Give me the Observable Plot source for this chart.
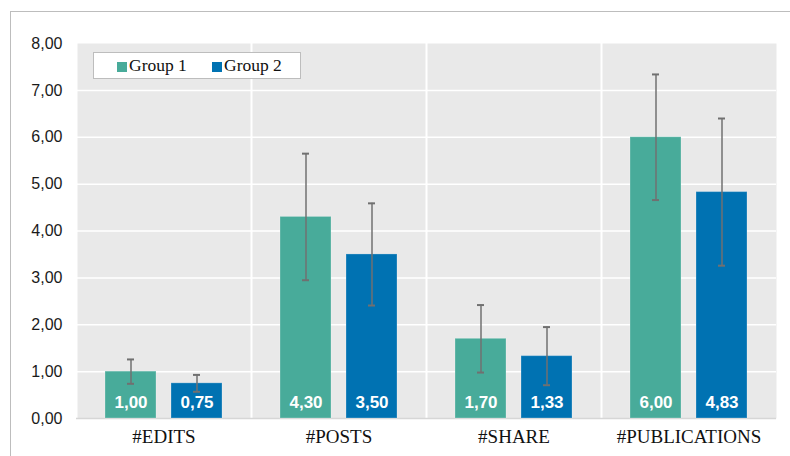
<!DOCTYPE html>
<html>
<head>
<meta charset="utf-8">
<script src="https://cdn.jsdelivr.net/npm/d3@7"></script>
<script src="https://cdn.jsdelivr.net/npm/@observablehq/plot@0.6"></script>
<style>
  html, body { margin: 0; padding: 0; background: #fff; }
  #wrap { position: relative; width: 790px; height: 456px; overflow: hidden; }
  #frame { position: absolute; left: 10px; top: 11px; width: 800px; height: 460px;
           border-top: 1.5px solid #bdbdbd; border-left: 1.5px solid #bdbdbd; box-sizing: border-box; }
  #chart { position: absolute; left: 0; top: 0; }
  #legend { position: absolute; left: 93px; top: 52px; width: 208px; height: 27px; box-sizing: border-box;
            background: #fff; border: 1px solid #bdbdbd; font-family: "Liberation Serif", serif; font-size: 17.5px;
            color: #111; }
  .li { position: absolute; top: 0; height: 25px; line-height: 25px; white-space: nowrap; }
  .sw { display: inline-block; width: 10px; height: 10px; margin-right: 2px; vertical-align: -0.5px; }
</style>
</head>
<body>
<div id="wrap">
  <div id="frame"></div>
  <div id="chart"></div>
  <div id="legend"></div>
</div>
<script>
const categories = ["#EDITS", "#POSTS", "#SHARE", "#PUBLICATIONS"];
const groups = ["Group 1", "Group 2"];
const colors = ["#48ab9a", "#0072b2"];
const group1Values = [1.00, 4.30, 1.70, 6.00];
const group2Values = [0.75, 3.50, 1.33, 4.83];
const group1Err = [0.26, 1.35, 0.72, 1.34];
const group2Err = [0.18, 1.09, 0.62, 1.57];
const yTicks = [0, 1, 2, 3, 4, 5, 6, 7, 8];

const data = [];
categories.forEach((c, i) => {
  data.push({cat: c, group: groups[0], value: group1Values[i], err: group1Err[i]});
  data.push({cat: c, group: groups[1], value: group2Values[i], err: group2Err[i]});
});
const fmt = d => d.toFixed(2).replace(".", ",");

const chart = Plot.plot({
  width: 790,
  height: 456,
  marginTop: 43,
  marginBottom: 38,
  marginLeft: 75,
  marginRight: 13,
  style: {background: "transparent", overflow: "visible"},
  fx: {domain: categories, paddingInner: 0, paddingOuter: 0, label: null},
  x: {domain: groups, paddingInner: 0.224, paddingOuter: 0.4216, axis: null},
  y: {domain: [0, 8], axis: null},
  color: {domain: groups, range: colors},
  marks: [
    Plot.frame({fill: "#e9e9e9", stroke: null}),
    Plot.ruleY(yTicks.filter(d => d > 0 && d < 8), {stroke: "#fff", strokeWidth: 1.5}),
    Plot.frame({anchor: "left", stroke: "#fff", strokeWidth: 2}),
    Plot.ruleY([0], {stroke: "#d6d6d6", strokeWidth: 1.5}),
    Plot.barY(data, {fx: "cat", x: "group", y: "value", fill: "group", stroke: "#fff", strokeOpacity: 0.25, strokeWidth: 1}),
    Plot.ruleX(data, {fx: "cat", x: "group", y1: d => d.value - d.err, y2: d => d.value + d.err, stroke: "#707070", strokeWidth: 1.5}),
    Plot.tickY(data, {fx: "cat", x: "group", y: d => d.value + d.err, stroke: "#707070", strokeWidth: 2, insetLeft: 22, insetRight: 22}),
    Plot.tickY(data, {fx: "cat", x: "group", y: d => d.value - d.err, stroke: "#707070", strokeWidth: 2, insetLeft: 22, insetRight: 22}),
    Plot.text(data, {fx: "cat", x: "group", y: 0, dy: -16, text: d => fmt(d.value), fill: "#fff",
      fontWeight: "bold", fontSize: 17, fontFamily: "Liberation Sans, Arial, sans-serif"}),
    Plot.axisY(yTicks, {tickSize: 0, tickPadding: 14, tickFormat: fmt, fontSize: 16,
      fontFamily: "Liberation Sans, Arial, sans-serif", fill: "#1a1a1a", label: null}),
    Plot.axisFx({anchor: "bottom", tickSize: 0, tickPadding: 11, fontSize: 19,
      fontFamily: "Liberation Serif, serif", fill: "#111", label: null})
  ]
});
document.getElementById("chart").appendChild(chart);

const legend = document.getElementById("legend");
const legendX = [23, 118];
groups.forEach((g, i) => {
  const item = document.createElement("div");
  item.className = "li";
  item.style.left = legendX[i] + "px";
  const sw = document.createElement("span");
  sw.className = "sw";
  sw.style.background = colors[i];
  item.appendChild(sw);
  item.appendChild(document.createTextNode(g));
  legend.appendChild(item);
});
</script>
</body>
</html>
